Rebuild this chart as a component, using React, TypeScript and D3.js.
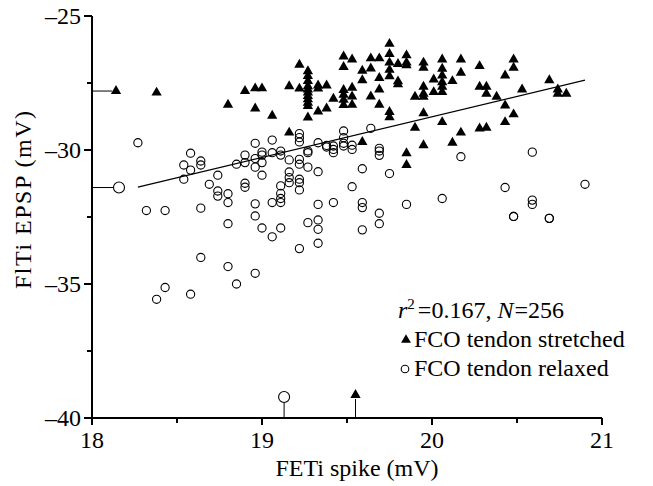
import React from "react";
import * as d3 from "d3";

// FCO tendon stretched (triangles): [FETi spike mV, FlTi EPSP mV]
const stretchedX = [
  18.38, 18.80, 18.90, 18.96, 19.00, 18.96, 19.06, 19.22, 19.16, 19.22,
  19.27, 19.27, 19.27, 19.27, 19.27, 19.27, 19.27, 19.27, 19.27, 19.27,
  19.27, 19.33, 19.33, 19.33, 19.38, 19.38, 19.42, 19.48, 19.53, 19.48,
  19.48, 19.48, 19.48, 19.48, 19.53, 19.53, 19.53, 19.59, 19.59, 19.64,
  19.64, 19.64, 19.69, 19.69, 19.69, 19.69, 19.75, 19.75, 19.75, 19.75,
  19.75, 19.75, 19.75, 19.80, 19.80, 19.80, 19.85, 19.85, 19.85, 19.95,
  19.95, 19.95, 19.95, 19.95, 19.90, 20.01, 20.01, 20.06, 20.06, 20.06,
  20.06, 20.06, 20.06, 20.12, 20.17, 20.17, 20.28, 20.28, 20.32, 20.32,
  20.38, 20.43, 20.43, 20.48, 20.48, 20.48, 20.43, 20.53, 20.69, 20.74,
  20.74, 20.79, 19.95, 19.90, 20.06, 20.17, 20.12, 20.28, 20.32, 19.95,
  19.85, 19.85, 19.16, 19.59,
];
const stretchedY = [
  -27.86, -28.31, -27.80, -27.70, -27.70, -28.45, -28.72, -26.82, -27.62, -27.71,
  -27.06, -27.24, -27.43, -27.62, -27.74, -27.86, -27.99, -28.11, -28.24, -28.36,
  -28.79, -27.59, -27.71, -28.56, -27.59, -28.45, -28.09, -26.51, -26.62, -26.90,
  -27.76, -27.94, -28.13, -28.32, -27.68, -28.00, -28.31, -27.04, -27.40, -26.58,
  -26.96, -28.00, -26.58, -27.31, -27.74, -28.31, -26.04, -26.42, -26.74, -27.01,
  -27.25, -28.58, -28.78, -26.79, -27.44, -27.55, -26.47, -26.74, -26.84, -26.74,
  -26.93, -27.64, -27.90, -28.01, -28.01, -27.37, -27.84, -26.62, -26.97, -27.22,
  -27.47, -27.64, -27.84, -27.43, -26.62, -27.12, -26.87, -27.64, -27.64, -27.90,
  -28.01, -27.22, -28.34, -26.62, -26.93, -28.67, -28.96, -27.74, -27.40, -27.74,
  -27.90, -27.90, -28.63, -29.17, -28.96, -29.35, -29.73, -29.20, -29.17, -29.82,
  -30.12, -30.56, -29.35, -29.70,
];

// FCO tendon relaxed (circles)
const relaxedX = [
  18.27, 18.58, 18.54, 18.58, 18.64, 18.64, 18.74, 18.69, 18.54, 18.90,
  18.90, 18.85, 18.96, 18.96, 18.96, 19.00, 19.00, 19.00, 19.00, 19.06,
  19.06, 19.11, 19.11, 19.16, 19.16, 19.16, 19.16, 19.22, 19.22, 19.22,
  19.22, 19.22, 19.22, 19.22, 19.27, 19.27, 19.27, 19.33, 19.33, 19.38,
  19.38, 19.42, 19.42, 19.42, 19.48, 19.48, 19.48, 19.48, 19.53, 19.53,
  19.59, 19.64, 19.69, 19.69, 19.53, 19.11,
  18.32, 18.43, 18.64, 18.74, 18.74, 18.80, 18.80, 18.80, 18.90, 18.90,
  18.96, 18.96, 19.00, 19.06, 19.06, 19.11, 19.11, 19.11, 19.11, 19.22,
  19.22, 19.27, 19.33, 19.33, 19.33, 19.33, 19.42, 19.59, 19.59, 19.59,
  18.64, 18.80, 18.96, 18.85, 18.43, 18.38, 18.58,
  19.69, 19.75, 20.17, 20.59, 20.43, 20.90, 19.69, 19.69, 19.85, 20.06,
  20.48, 20.48, 20.59, 20.59, 20.69, 20.69,
];
const relaxedY = [
  -29.73, -30.12, -30.56, -30.75, -30.41, -30.56, -30.94, -31.28, -31.09, -30.19,
  -30.47, -30.53, -29.75, -30.32, -30.64, -30.08, -30.19, -30.47, -30.94, -29.63,
  -30.10, -30.04, -30.19, -30.37, -30.82, -31.03, -31.22, -29.39, -29.54, -29.70,
  -30.35, -30.53, -31.09, -31.22, -30.04, -30.10, -30.64, -29.73, -30.81, -29.83,
  -29.89, -29.85, -29.98, -30.10, -29.29, -29.54, -29.75, -29.85, -29.82, -29.98,
  -30.70, -29.19, -30.04, -30.20, -31.37, -31.34,
  -32.26, -32.26, -32.17, -31.53, -31.72, -31.63, -31.96, -32.75, -31.24, -31.39,
  -32.01, -32.46, -32.91, -31.96, -33.24, -31.62, -31.81, -31.96, -32.91, -31.49,
  -33.68, -32.71, -32.03, -32.61, -32.96, -33.48, -31.96, -31.96, -32.15, -32.98,
  -34.01, -34.35, -34.60, -35.00, -35.13, -35.57, -35.38,
  -29.94, -30.88, -30.25, -30.08, -31.40, -31.28, -32.36, -32.75, -32.03, -31.81,
  -32.48, -32.48, -31.87, -32.03, -32.55, -32.55,
];

// group means (marginal markers)
const stretchedMean = [19.55, -27.8];
const relaxedMean = [19.13, -31.4];

// regression fit
const fitSlope = 1.517;
const fitIntercept = -59.1;
const fitText = ["r", "2", "=0.167,  ", "N", "=256"];

const xTicks = [18, 19, 20, 21];
const xMinor = [18.5, 19.5, 20.5];
const yTicks = [-25, -30, -35, -40];
const yMinor = [-27.5, -32.5, -37.5];

const legendLabels = ["FCO tendon stretched", "FCO tendon relaxed"];

const W = 653;
const H = 486;
const FONT = "'Liberation Serif', 'Times New Roman', serif";

export default function App() {
  const x = d3.scaleLinear().domain([18, 21]).range([92, 602]);
  const y = d3.scaleLinear().domain([-40, -25]).range([418, 16]);
  const x0 = x(18);
  const y0 = y(-40);

  const tri = d3.symbol().type(d3.symbolTriangle).size(46)()!;
  const triSmall = d3.symbol().type(d3.symbolTriangle).size(42)()!;

  const stretched = stretchedX.map((v, i) => [v, stretchedY[i]]);
  const relaxed = relaxedX.map((v, i) => [v, relaxedY[i]]);
  const allX = stretchedX.concat(relaxedX);
  const [fx0, fx1] = d3.extent(allX) as [number, number];
  const fitLine = d3
    .line<number>()
    .x((d) => x(d))
    .y((d) => y(fitIntercept + fitSlope * d))([fx0, fx1])!;

  const txt = { fontFamily: FONT, fontSize: 24, fill: "#000" } as const;

  return (
    <svg
      width={W}
      height={H}
      style={{ position: "absolute", left: 0, top: 0, background: "#fff" }}
    >
      <rect x={0} y={0} width={W} height={H} fill="#fff" />

      {/* regression line */}
      <path d={fitLine} fill="none" stroke="#000" strokeWidth={1.2} />

      {/* relaxed circles */}
      {relaxed.map((d, i) => (
        <circle
          key={"c" + i}
          cx={x(d[0])}
          cy={y(d[1])}
          r={4.1}
          fill="none"
          stroke="#000"
          strokeWidth={1.1}
        />
      ))}

      {/* stretched triangles */}
      {stretched.map((d, i) => (
        <path
          key={"t" + i}
          d={tri}
          transform={`translate(${x(d[0])},${y(d[1])})`}
          fill="#000"
        />
      ))}

      {/* marginal mean markers: left */}
      <line x1={x0} x2={x0 + 20} y1={y(stretchedMean[1])} y2={y(stretchedMean[1])} stroke="#000" strokeWidth={1} />
      <path d={tri} transform={`translate(${x0 + 24},${y(stretchedMean[1])})`} fill="#000" />
      <line x1={x0} x2={x0 + 21} y1={y(relaxedMean[1])} y2={y(relaxedMean[1])} stroke="#000" strokeWidth={1} />
      <circle cx={x0 + 27} cy={y(relaxedMean[1])} r={5.5} fill="#fff" stroke="#000" strokeWidth={1.1} />

      {/* marginal mean markers: bottom */}
      <line x1={x(relaxedMean[0])} x2={x(relaxedMean[0])} y1={y0} y2={y0 - 15.5} stroke="#000" strokeWidth={1} />
      <circle cx={x(relaxedMean[0])} cy={y0 - 21} r={5.5} fill="#fff" stroke="#000" strokeWidth={1.1} />
      <line x1={x(stretchedMean[0])} x2={x(stretchedMean[0])} y1={y0} y2={y0 - 19} stroke="#000" strokeWidth={1} />
      <path d={tri} transform={`translate(${x(stretchedMean[0])},${y0 - 23})`} fill="#000" />

      {/* axes */}
      <line x1={x0} x2={x0} y1={y(-25)} y2={y0 + 1} stroke="#000" strokeWidth={2} />
      <line x1={x0 - 1} x2={x(21)} y1={y0} y2={y0} stroke="#000" strokeWidth={2} />
      {yTicks.map((t) => (
        <g key={"yt" + t}>
          <line x1={x0 - 8} x2={x0} y1={y(t)} y2={y(t)} stroke="#000" strokeWidth={2} />
          <text x={x0 - 11} y={y(t) + 8} textAnchor="end" {...txt}>
            {"\u2013" + Math.abs(t)}
          </text>
        </g>
      ))}
      {yMinor.map((t) => (
        <line key={"ym" + t} x1={x0 - 5} x2={x0} y1={y(t)} y2={y(t)} stroke="#000" strokeWidth={2} />
      ))}
      {xTicks.map((t) => (
        <g key={"xt" + t}>
          <line x1={x(t)} x2={x(t)} y1={y0} y2={y0 + 7} stroke="#000" strokeWidth={2} />
          <text x={x(t)} y={y0 + 30} textAnchor="middle" {...txt}>
            {t}
          </text>
        </g>
      ))}
      {xMinor.map((t) => (
        <line key={"xm" + t} x1={x(t)} x2={x(t)} y1={y0} y2={y0 + 5} stroke="#000" strokeWidth={2} />
      ))}

      {/* axis titles */}
      <text x={357} y={476} textAnchor="middle" {...txt}>
        FETi spike (mV)
      </text>
      <text
        transform={`translate(31,200) rotate(-90)`}
        textAnchor="middle"
        textLength={178}
        lengthAdjust="spacing"
        {...txt}
      >
        FlTi EPSP (mV)
      </text>

      {/* legend */}
      <text x={398} y={318} {...txt}>
        <tspan fontStyle="italic">{fitText[0]}</tspan>
        <tspan fontSize={15} dy={-9}>{fitText[1]}</tspan>
        <tspan dy={9} dx={3}>{fitText[2]}</tspan>
        <tspan fontStyle="italic">{fitText[3]}</tspan>
        <tspan dx={1}>{fitText[4]}</tspan>
      </text>
      <path d={triSmall} transform="translate(406,340)" fill="#000" />
      <text x={414} y={347} {...txt}>
        {legendLabels[0]}
      </text>
      <circle cx={405} cy={369} r={3.8} fill="none" stroke="#000" strokeWidth={1.1} />
      <text x={414} y={376} {...txt}>
        {legendLabels[1]}
      </text>
    </svg>
  );
}
